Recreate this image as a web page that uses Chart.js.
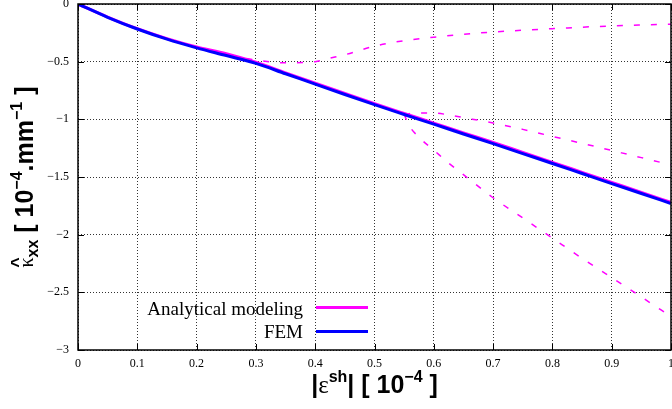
<!DOCTYPE html>
<html lang="en">
<head>
    <meta charset="UTF-8">
    <title>Curvature vs shrinkage strain</title>
    <script src="https://cdn.jsdelivr.net/npm/chart.js"></script>
    <style>
        body { margin: 0; background: #fff; }
        #wrap { width: 672px; height: 409px; }
    </style>
</head>
<body>
    <div id="wrap"><canvas id="curvChart" width="672" height="409"></canvas></div>
    <script>
        // x values (strain, 10^-4) and curvature values
        const xMain = [0, 0.05, 0.1, 0.15, 0.2, 0.25, 0.3, 0.35, 0.4, 0.45, 0.5, 0.55, 0.6, 0.65, 0.7, 0.75, 0.8, 0.85, 0.9, 0.95, 1];
        const femY = [0, -0.115, -0.217, -0.305, -0.38, -0.447, -0.515, -0.605, -0.695, -0.785, -0.873, -0.958, -1.042, -1.127, -1.21, -1.297, -1.383, -1.47, -1.557, -1.643, -1.73];
        const analyticY = [0, -0.113, -0.214, -0.3, -0.372, -0.43, -0.505, -0.597, -0.687, -0.776, -0.864, -0.949, -1.033, -1.118, -1.2, -1.287, -1.373, -1.46, -1.547, -1.634, -1.72];

        // dashed branches of the analytical model
        const xUpper = [0.2, 0.25, 0.3, 0.35, 0.4, 0.425, 0.45, 0.5, 0.55, 0.6, 0.65, 0.7, 0.75, 0.8, 0.85, 0.9, 0.95, 1];
        const upperY = [-0.375, -0.44, -0.485, -0.51, -0.5, -0.47, -0.44, -0.365, -0.318, -0.288, -0.262, -0.243, -0.227, -0.214, -0.201, -0.19, -0.182, -0.175];
        const xMiddle = [0.55, 0.575, 0.6, 0.625, 0.65, 0.7, 0.75, 0.8, 0.85, 0.9, 0.95, 1];
        const middleY = [-0.955, -0.945, -0.944, -0.962, -0.985, -1.032, -1.087, -1.148, -1.208, -1.27, -1.332, -1.395];
        const xLower = [0.55, 0.558, 0.577, 0.6, 0.625, 0.65, 0.7, 0.75, 0.8, 0.85, 0.9, 0.95, 1];
        const lowerY = [-0.955, -1.05, -1.165, -1.267, -1.38, -1.48, -1.68, -1.855, -2.03, -2.205, -2.372, -2.54, -2.71];

        const xTicks = [0, 0.1, 0.2, 0.3, 0.4, 0.5, 0.6, 0.7, 0.8, 0.9, 1];
        const yTicks = [0, -0.5, -1, -1.5, -2, -2.5, -3];

        const pts = (xs, ys) => xs.map((x, i) => ({ x: x, y: ys[i] }));

        const MAGENTA = '#ff00ff';
        const BLUE = '#0000ff';
        const SERIF = '"Liberation Serif", "Times New Roman", serif';
        const SANS = '"Liberation Sans", Arial, sans-serif';

        function drawRich(ctx, parts, cx, cy, rotate) {
            ctx.save();
            ctx.translate(cx, cy);
            if (rotate) ctx.rotate(-Math.PI / 2);
            let total = 0;
            parts.forEach(p => {
                ctx.font = p.font;
                p.w = ctx.measureText(p.t).width;
                if (!p.hat) total += p.w;
            });
            let x = -total / 2;
            let last = 0;
            ctx.textBaseline = 'alphabetic';
            ctx.fillStyle = '#000';
            parts.forEach(p => {
                ctx.font = p.font;
                if (p.hat) {
                    ctx.textAlign = 'center';
                    ctx.fillText(p.t, x - last / 2, p.dy || 0);
                } else {
                    ctx.textAlign = 'left';
                    ctx.fillText(p.t, x, p.dy || 0);
                    x += p.w;
                    last = p.w;
                }
            });
            ctx.restore();
        }

        const framePlugin = {
            id: 'frame',
            afterDraw(chart) {
                const ctx = chart.ctx;
                const a = chart.chartArea;
                const xs = chart.scales.x, ys = chart.scales.y;
                ctx.save();
                ctx.strokeStyle = '#000';
                ctx.lineWidth = 1;
                ctx.beginPath();
                xTicks.forEach(v => {
                    const px = Math.round(xs.getPixelForValue(v)) + 0.5;
                    ctx.moveTo(px, a.bottom); ctx.lineTo(px, a.bottom - 6);
                    ctx.moveTo(px, a.top); ctx.lineTo(px, a.top + 6);
                });
                yTicks.forEach(v => {
                    const py = Math.round(ys.getPixelForValue(v)) + 0.5;
                    ctx.moveTo(a.left, py); ctx.lineTo(a.left + 6, py);
                    ctx.moveTo(a.right, py); ctx.lineTo(a.right - 6, py);
                });
                ctx.stroke();
                ctx.lineWidth = 1.5;
                ctx.strokeRect(a.left, a.top, a.right - a.left, a.bottom - a.top);

                // legend
                ctx.font = '19px ' + SERIF;
                ctx.fillStyle = '#000';
                ctx.textAlign = 'right';
                ctx.textBaseline = 'alphabetic';
                ctx.fillText('Analytical modeling', 303, 315);
                ctx.fillText('FEM', 303, 338);
                ctx.lineWidth = 3;
                ctx.strokeStyle = MAGENTA;
                ctx.beginPath(); ctx.moveTo(316, 307.5); ctx.lineTo(368, 307.5); ctx.stroke();
                ctx.strokeStyle = BLUE;
                ctx.beginPath(); ctx.moveTo(316, 331.5); ctx.lineTo(368, 331.5); ctx.stroke();

                // axis titles
                const big = 'bold 25px ' + SANS;
                const sup = 'bold 16px ' + SANS;
                drawRich(ctx, [
                    { t: '|', font: big },
                    { t: 'ε', font: '25px ' + SERIF },
                    { t: 'sh', font: sup, dy: -11 },
                    { t: '| [ 10', font: big },
                    { t: '−4', font: sup, dy: -11 },
                    { t: ' ]', font: big }
                ], (a.left + a.right) / 2, 393, false);
                drawRich(ctx, [
                    { t: 'κ', font: '20px ' + SERIF },
                    { t: '^', font: 'bold 18px ' + SANS, dy: -9, hat: true },
                    { t: 'xx', font: sup, dy: 5 },
                    { t: ' [ 10', font: big },
                    { t: '−4', font: sup, dy: -11 },
                    { t: '.mm', font: big },
                    { t: '−1', font: sup, dy: -11 },
                    { t: ' ]', font: big }
                ], 33, (a.top + a.bottom) / 2, true);
                ctx.restore();
            }
        };

        const solid = (label, data, color, order) => ({
            label: label, data: data, borderColor: color, borderWidth: 3,
            pointRadius: 0, fill: false, cubicInterpolationMode: 'monotone', order: order
        });
        const dashed = (data) => ({
            label: 'branch', data: data, borderColor: MAGENTA, borderWidth: 1.5,
            borderDash: [6, 11], pointRadius: 0, fill: false,
            cubicInterpolationMode: 'monotone', order: 3
        });

        new Chart(document.getElementById('curvChart').getContext('2d'), {
            type: 'line',
            data: {
                datasets: [
                    solid('FEM', pts(xMain, femY), BLUE, 1),
                    solid('Analytical modeling', pts(xMain, analyticY), MAGENTA, 2),
                    dashed(pts(xUpper, upperY)),
                    dashed(pts(xMiddle, middleY)),
                    dashed(pts(xLower, lowerY))
                ]
            },
            options: {
                responsive: false,
                animation: false,
                layout: { padding: { top: 4, right: 1, left: 0, bottom: 0 } },
                plugins: { legend: { display: false }, tooltip: { enabled: false } },
                scales: {
                    x: {
                        type: 'linear', min: 0, max: 1,
                        afterFit: s => { s.height = 59; s.paddingLeft = 0; s.paddingRight = 0; },
                        afterBuildTicks: s => { s.ticks = xTicks.map(v => ({ value: v })); },
                        grid: { color: 'rgba(0,0,0,0.8)', lineWidth: 1, drawTicks: false },
                        border: { display: false, dash: [1, 2] },
                        ticks: {
                            padding: 7, color: '#000', maxRotation: 0,
                            font: { family: SERIF, size: 12 },
                            callback: v => String(v)
                        }
                    },
                    y: {
                        type: 'linear', min: -3, max: 0,
                        afterFit: s => { s.width = 78; s.paddingTop = 0; s.paddingBottom = 0; },
                        afterBuildTicks: s => { s.ticks = yTicks.map(v => ({ value: v })); },
                        grid: { color: 'rgba(0,0,0,0.8)', lineWidth: 1, drawTicks: false },
                        border: { display: false, dash: [1, 2] },
                        ticks: {
                            padding: 9, color: '#000',
                            font: { family: SERIF, size: 12 },
                            callback: v => String(v).replace('-', '−')
                        }
                    }
                }
            },
            plugins: [framePlugin]
        });
    </script>
</body>
</html>
